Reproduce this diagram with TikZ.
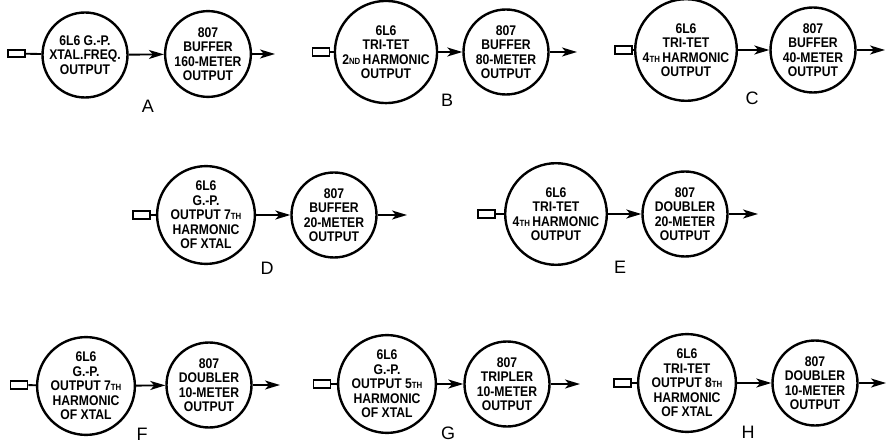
\documentclass[tikz,border=0pt]{standalone}
\usepackage{fontspec}
\setmainfont{Liberation Sans}
\newfontfamily\lettering{Liberation Sans}[FakeStretch=0.87]
\usetikzlibrary{arrows.meta}
\newcommand\smc[1]{{\fontsize{9}{9}\selectfont #1}}
\tikzset{
  tube/.style={circle,draw,line width=2.4pt,minimum size=85pt,inner sep=0pt,align=center,
    font=\lettering\bfseries\fontsize{14}{14.5}\selectfont},
  xtal/.style={draw,line width=1.8pt,minimum width=17pt,minimum height=7.5pt,inner sep=0pt},
  wire/.style={line width=1.9pt},
  sig/.style={line width=1.9pt,-{Stealth[length=15pt,width=9pt,inset=4pt]}},
  tag/.style={font=\fontsize{18}{18}\selectfont,inner sep=0pt}
}
\begin{document}
\begin{tikzpicture}[x=1pt,y=-1pt]
\useasboundingbox (0,0) rectangle (888,443);
% A
\node[xtal] (Ax) at (16.5,53.5) {};
\node[tube] (A1) at (85,55) {6L6 G.-P.\\XTAL.FREQ.\\OUTPUT};
\node[tube] (A2) at (208,54) {807\\BUFFER\\160-METER\\OUTPUT};
\coordinate (Ao) at (275,54);
\node[tag] (tagA) at (148,106) {A};
\draw[wire] (Ax) -- (A1);
\draw[sig] (A1) -- (A2);
\draw[sig] (A2) -- (Ao);
% B
\node[xtal] (Bx) at (321,52) {};
\node[tube] (B1) at (386,52) {6L6\\TRI-TET\\2\smc{ND}\,HARMONIC\\OUTPUT};
\node[tube] (B2) at (506,52) {807\\BUFFER\\80-METER\\OUTPUT};
\coordinate (Bo) at (577,52);
\node[tag] (tagB) at (447,100) {B};
\draw[wire] (Bx) -- (B1);
\draw[sig] (B1) -- (B2);
\draw[sig] (B2) -- (Bo);
% C
\node[xtal] (Cx) at (623.5,50) {};
\node[tube] (C1) at (686,50) {6L6\\TRI-TET\\4\smc{TH}\,HARMONIC\\OUTPUT};
\node[tube] (C2) at (813,50) {807\\BUFFER\\40-METER\\OUTPUT};
\coordinate (Co) at (885,50);
\node[tag] (tagC) at (752,98) {C};
\draw[wire] (Cx) -- (C1);
\draw[sig] (C1) -- (C2);
\draw[sig] (C2) -- (Co);
% D
\node[xtal] (Dx) at (141.5,215) {};
\node[tube] (D1) at (206,215) {6L6\\G.-P.\\OUTPUT 7\smc{TH}\\HARMONIC\\OF XTAL};
\node[tube] (D2) at (334,215) {807\\BUFFER\\20-METER\\OUTPUT};
\coordinate (Do) at (407,215);
\node[tag] (tagD) at (267,268) {D};
\draw[wire] (Dx) -- (D1);
\draw[sig] (D1) -- (D2);
\draw[sig] (D2) -- (Do);
% E
\node[xtal] (Ex) at (486.5,214) {};
\node[tube] (E1) at (556,214) {6L6\\TRI-TET\\4\smc{TH}\,HARMONIC\\OUTPUT};
\node[tube] (E2) at (685,214) {807\\DOUBLER\\20-METER\\OUTPUT};
\coordinate (Eo) at (758,214);
\node[tag] (tagE) at (620,267) {E};
\draw[wire] (Ex) -- (E1);
\draw[sig] (E1) -- (E2);
\draw[sig] (E2) -- (Eo);
% F
\node[xtal] (Fx) at (19,385) {};
\node[tube] (F1) at (86,386) {6L6\\G.-P.\\OUTPUT 7\smc{TH}\\HARMONIC\\OF XTAL};
\node[tube] (F2) at (209,385) {807\\DOUBLER\\10-METER\\OUTPUT};
\coordinate (Fo) at (280,385);
\node[tag] (tagF) at (142,434) {F};
\draw[wire] (Fx) -- (F1);
\draw[sig] (F1) -- (F2);
\draw[sig] (F2) -- (Fo);
% G
\node[xtal] (Gx) at (322,384) {};
\node[tube] (G1) at (387,384) {6L6\\G.-P.\\OUTPUT 5\smc{TH}\\HARMONIC\\OF XTAL};
\node[tube] (G2) at (507,384) {807\\TRIPLER\\10-METER\\OUTPUT};
\coordinate (Go) at (580,384);
\node[tag] (tagG) at (448,433) {G};
\draw[wire] (Gx) -- (G1);
\draw[sig] (G1) -- (G2);
\draw[sig] (G2) -- (Go);
% H
\node[xtal] (Hx) at (622.5,383) {};
\node[tube] (H1) at (687,383) {6L6\\TRI-TET\\OUTPUT 8\smc{TH}\\HARMONIC\\OF XTAL};
\node[tube] (H2) at (815,383) {807\\DOUBLER\\10-METER\\OUTPUT};
\coordinate (Ho) at (886,383);
\node[tag] (tagH) at (748,432) {H};
\draw[wire] (Hx) -- (H1);
\draw[sig] (H1) -- (H2);
\draw[sig] (H2) -- (Ho);
\end{tikzpicture}
\end{document}
